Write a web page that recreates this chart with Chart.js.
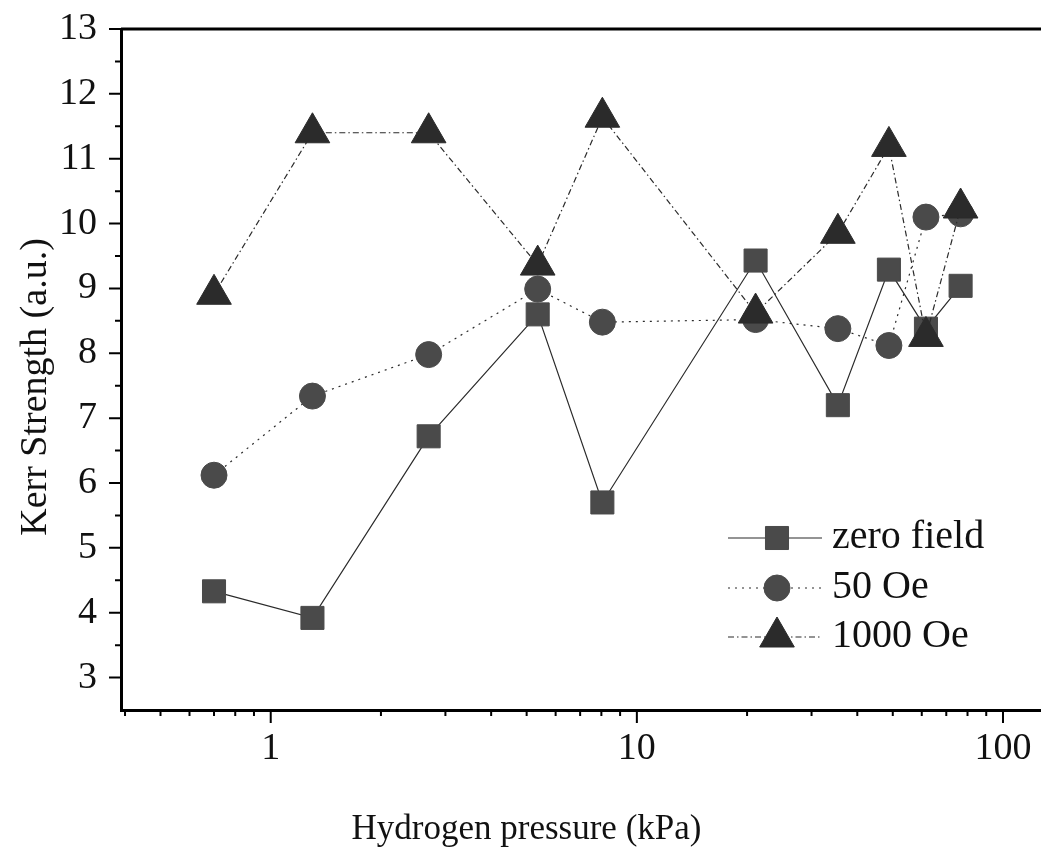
<!DOCTYPE html>
<html>
<head>
<meta charset="utf-8">
<title>Kerr Strength vs Hydrogen pressure</title>
<script src="https://cdn.jsdelivr.net/npm/chart.js@4.4.1/dist/chart.umd.min.js"></script>
<style>
  html, body { margin: 0; padding: 0; background: #fff; overflow: hidden; }
</style>
</head>
<body>
<canvas id="kerrChart" width="1041" height="867"></canvas>
<script>
// ── Daten ─────────────────────────────────────────────────────────
const pressure  = [0.70, 1.30, 2.70, 5.36, 8.05, 21.1, 35.4, 48.8, 61.6, 76.6];   // kPa
const zeroField = [4.33, 3.92, 6.72, 8.60, 5.70, 9.43, 7.20, 9.29, 8.38, 9.04];
const oe50      = [6.12, 7.34, 7.98, 8.99, 8.48, 8.52, 8.38, 8.12, 10.10, 10.15];
const oe1000    = [8.91, 11.40, 11.40, 9.36, 11.64, 8.62, 9.85, 11.19, 8.26, 10.24];

const seriesNames = ['zero field', '50 Oe', '1000 Oe'];

const xTicks  = [0.4, 0.5, 0.6, 0.7, 0.8, 0.9, 1, 2, 3, 4, 5, 6, 7, 8, 9,
                 10, 20, 30, 40, 50, 60, 70, 80, 90, 100];
const xLabels = [1, 10, 100];
const yTicks  = [3, 3.5, 4, 4.5, 5, 5.5, 6, 6.5, 7, 7.5, 8, 8.5, 9, 9.5,
                 10, 10.5, 11, 11.5, 12, 12.5, 13];

// ── Stil ──────────────────────────────────────────────────────────
const FONT  = '"Liberation Serif", "DejaVu Serif", serif';
const INK   = '#111';
const LINE  = '#2a2a2a';

const styles = [
  { pointStyle: 'rect',     radius: 16.3, dash: [],             fill: '#4a4a4a', order: 2 },
  { pointStyle: 'circle',   radius: 13,   dash: [2, 5],         fill: '#4a4a4a', order: 1 },
  { pointStyle: 'triangle', radius: 20,   dash: [6, 3, 1.5, 3], fill: '#2b2b2b', order: 0 },
];

// Legende: Zeilenmitte (y) und Position von Linie / Symbol / Text
const legendRows = [538, 588, 637];
const legendLine = { x0: 728, x1: 822, marker: 777, text: 832 };

// Y-Achsentitel (Chart.js zentriert ihn sonst auf die Achse)
const yTitle = { text: 'Kerr Strength (a.u.)', x: 36, y: 387 };

const series = [zeroField, oe50, oe1000];

const datasets = series.map((vals, i) => ({
  label:                seriesNames[i],
  data:                 pressure.map((p, k) => ({ x: p, y: vals[k] })),
  borderColor:          LINE,
  borderWidth:          1.2,
  borderDash:           styles[i].dash,
  pointStyle:           styles[i].pointStyle,
  pointRadius:          styles[i].radius,
  pointBackgroundColor: styles[i].fill,
  pointBorderColor:     styles[i].fill,
  pointBorderWidth:     1,
  order:                styles[i].order,
  tension:              0,
  fill:                 false,
}));

// ── Plugins ───────────────────────────────────────────────────────

// Achsenticks (lang/kurz), oberer Rahmen, Y-Titel
const axisTicks = {
  id: 'axisTicks',
  afterDraw(chart) {
    const { ctx, chartArea: a, scales: { x, y } } = chart;
    ctx.save();
    ctx.strokeStyle = '#000';
    ctx.lineWidth = 2;
    ctx.beginPath();
    x.ticks.forEach(t => {
      const px  = x.getPixelForValue(t.value);
      const len = xLabels.includes(t.value) ? 13 : 6;
      ctx.moveTo(px, a.bottom);
      ctx.lineTo(px, a.bottom + len);
    });
    y.ticks.forEach(t => {
      const py  = y.getPixelForValue(t.value);
      const len = Number.isInteger(t.value) ? 12 : 6;
      ctx.moveTo(a.left, py);
      ctx.lineTo(a.left - len, py);
    });
    ctx.stroke();

    ctx.lineWidth = 3;
    ctx.beginPath();
    ctx.moveTo(a.left, a.top);
    ctx.lineTo(a.right + 2, a.top);
    ctx.stroke();

    ctx.translate(yTitle.x, yTitle.y);
    ctx.rotate(-Math.PI / 2);
    ctx.fillStyle    = INK;
    ctx.font         = `38px ${FONT}`;
    ctx.textAlign    = 'center';
    ctx.textBaseline = 'middle';
    ctx.fillText(yTitle.text, 0, 0);
    ctx.restore();
  },
};

// Legende mit Linie + Symbol wie im Original
const kerrLegend = {
  id: 'kerrLegend',
  afterDatasetsDraw(chart) {
    const ctx = chart.ctx;
    ctx.save();
    chart.data.datasets.forEach((ds, i) => {
      const y = legendRows[i];
      ctx.strokeStyle = ds.borderColor;
      ctx.lineWidth   = ds.borderWidth;
      ctx.setLineDash(ds.borderDash);
      ctx.beginPath();
      ctx.moveTo(legendLine.x0, y);
      ctx.lineTo(legendLine.x1, y);
      ctx.stroke();
      ctx.setLineDash([]);

      ctx.fillStyle   = ds.pointBackgroundColor;
      ctx.strokeStyle = ds.pointBorderColor;
      ctx.lineWidth   = 1;
      Chart.helpers.drawPoint(ctx, {
        pointStyle: ds.pointStyle, radius: ds.pointRadius, rotation: 0, borderWidth: 1,
      }, legendLine.marker, y);

      ctx.fillStyle    = INK;
      ctx.font         = `40px ${FONT}`;
      ctx.textAlign    = 'left';
      ctx.textBaseline = 'alphabetic';
      ctx.fillText(ds.label, legendLine.text, y + 10);
    });
    ctx.restore();
  },
};

// ── Chart ─────────────────────────────────────────────────────────
new Chart(document.getElementById('kerrChart'), {
  type: 'line',
  data: { datasets },
  plugins: [axisTicks, kerrLegend],
  options: {
    responsive: false,
    animation:  false,
    layout: { autoPadding: false, padding: { top: 29, left: 12, right: 0, bottom: 0 } },
    plugins: {
      legend:  { display: false },
      tooltip: { enabled: false },
      title: {
        display: true, position: 'bottom', text: 'Hydrogen pressure (kPa)',
        color: INK, font: { family: FONT, size: 35, weight: 'normal' },
        padding: { top: 0, bottom: 16 },
      },
    },
    scales: {
      x: {
        type: 'logarithmic', min: 0.39, max: 127,
        afterBuildTicks: s => { s.ticks = xTicks.map(v => ({ value: v })); },
        afterFit: s => { s.height = 99; s.paddingLeft = 0; s.paddingRight = 0; },
        grid:   { display: false },
        border: { display: true, color: '#000', width: 3 },
        ticks: {
          autoSkip: false, maxRotation: 0, padding: 8, color: INK,
          font: { family: FONT, size: 38 },
          callback: v => xLabels.includes(v) ? String(v) : '',
        },
      },
      y: {
        min: 2.5, max: 13,
        afterBuildTicks: s => { s.ticks = yTicks.map(v => ({ value: v })); },
        afterFit: s => { s.width = 121 - 12; s.paddingTop = 0; s.paddingBottom = 0; },
        grid:   { display: false },
        border: { display: true, color: '#000', width: 3 },
        ticks: {
          autoSkip: false, padding: 16, color: INK,
          font: { family: FONT, size: 38 },
          callback: v => Number.isInteger(v) ? String(v) : '',
        },
      },
    },
  },
});
</script>
</body>
</html>
